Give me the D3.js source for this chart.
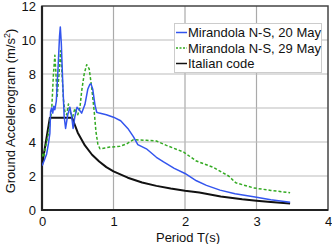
<!DOCTYPE html>
<html><head><meta charset="utf-8">
<script src="https://cdn.jsdelivr.net/npm/d3@7"></script>
<style>body{margin:0;background:#fff}svg{display:block}text{font-family:"Liberation Sans",Arial,sans-serif;fill:#111}</style>
</head><body><svg id="c" width="332" height="244"></svg>
<script>
const xTicks = [0, 1, 2, 3, 4];
const yTicks = [0, 2, 4, 6, 8, 10, 12];
const seriesNames = ["Mirandola N-S, 20 May", "Mirandola N-S, 29 May", "Italian code"];

const may20T = [0, 0.03, 0.065, 0.09, 0.11, 0.12, 0.135, 0.15, 0.165, 0.18, 0.2, 0.225, 0.245, 0.256, 0.27, 0.29, 0.31, 0.33, 0.36, 0.39, 0.415, 0.435, 0.46, 0.49, 0.52, 0.555, 0.6, 0.64, 0.67, 0.685, 0.71, 0.74, 0.765, 0.8, 0.9, 1.0, 1.1, 1.2, 1.28, 1.34, 1.46, 1.6, 1.7, 1.85, 2.0, 2.16, 2.3, 2.49, 2.7, 2.96, 3.2, 3.47];
const may20A = [2.6, 2.9, 3.3, 3.9, 4.5, 5.8, 6.0, 5.7, 6.1, 5.9, 6.4, 8.4, 10.2, 10.77, 9.8, 7.5, 5.5, 4.8, 5.6, 6.05, 5.5, 4.8, 5.5, 6.05, 5.9, 5.7, 6.2, 7.1, 7.4, 7.42, 7.1, 6.2, 5.75, 5.7, 5.6, 5.46, 5.25, 4.8, 4.3, 3.85, 3.6, 3.1, 2.83, 2.45, 2.15, 1.72, 1.45, 1.17, 0.95, 0.78, 0.6, 0.45];

const may29T = [0, 0.02, 0.05, 0.09, 0.135, 0.16, 0.18, 0.195, 0.21, 0.235, 0.26, 0.28, 0.3, 0.32, 0.345, 0.37, 0.4, 0.43, 0.46, 0.5, 0.53, 0.555, 0.59, 0.625, 0.66, 0.695, 0.73, 0.755, 0.78, 0.81, 0.88, 0.95, 1.09, 1.18, 1.28, 1.46, 1.6, 1.74, 1.98, 2.16, 2.4, 2.61, 2.71, 2.96, 3.2, 3.47];
const may29A = [3.3, 3.1, 3.7, 4.5, 5.85, 8.0, 9.1, 8.0, 6.6, 7.8, 9.37, 8.0, 6.5, 5.8, 5.6, 6.24, 5.7, 5.5, 5.97, 5.6, 6.0, 7.0, 8.0, 8.55, 8.3, 7.2, 5.8, 4.6, 3.9, 3.6, 3.65, 3.7, 3.75, 3.88, 4.14, 4.1, 4.06, 3.8, 3.41, 2.88, 2.5, 2.0, 1.6, 1.3, 1.15, 1.02];

const codeT = [0, 0.05, 0.11, 0.42, 0.5, 0.6, 0.7, 0.8, 0.9, 1.0, 1.2, 1.4, 1.6, 1.8, 2.0, 2.2, 2.5, 2.8, 3.0, 3.2, 3.47];
const codeA = [2.6, 3.9, 5.43, 5.43, 4.55, 3.8, 3.25, 2.85, 2.52, 2.27, 1.9, 1.62, 1.42, 1.26, 1.13, 1.03, 0.8, 0.63, 0.55, 0.47, 0.38];

const L = 42, R = 328, T = 6, B = 210;
const svg = d3.select("#c");
const x = d3.scaleLinear().domain([0, 4]).range([L, R]);
const y = d3.scaleLinear().domain([0, 12]).range([B, T]);

// grid
svg.append("g").selectAll("line").data(xTicks.slice(1, -1)).join("line")
  .attr("x1", d => x(d)).attr("x2", d => x(d)).attr("y1", T).attr("y2", B)
  .attr("stroke", "#aaa").attr("stroke-width", 1.2);
svg.append("g").selectAll("line").data(yTicks.slice(1, -1)).join("line")
  .attr("x1", L).attr("x2", R).attr("y1", d => y(d)).attr("y2", d => y(d))
  .attr("stroke", "#bbb").attr("stroke-width", 1.2);

// frame
svg.append("rect").attr("x", L).attr("y", T).attr("width", R - L).attr("height", B - T)
  .attr("fill", "none").attr("stroke", "#444").attr("stroke-width", 1.5);
svg.append("path").attr("d", `M${L},${T}V${B}H${R}`).attr("fill", "none")
  .attr("stroke", "#222").attr("stroke-width", 2.2);

// tick labels via axes
const xAxis = svg.append("g").attr("transform", `translate(0,${B})`)
  .call(d3.axisBottom(x).tickValues(xTicks).tickSize(0).tickPadding(7).tickFormat(d3.format("d")));
const yAxis = svg.append("g").attr("transform", `translate(${L},0)`)
  .call(d3.axisLeft(y).tickValues(yTicks).tickSize(0).tickPadding(6).tickFormat(d3.format("d")));
[xAxis, yAxis].forEach(g => {
  g.select(".domain").remove();
  g.selectAll("text").attr("font-size", 13).attr("font-family", "Liberation Sans, Arial, sans-serif").attr("fill", "#111");
});

// titles
svg.append("text").attr("x", 188).attr("y", 242).attr("text-anchor", "middle").attr("font-size", 13).text("Period T(s)");
const yt = svg.append("text").attr("transform", "translate(15,111) rotate(-90)").attr("text-anchor", "middle").attr("font-size", 13);
yt.append("tspan").text("Ground Accelerogram (m/s");
yt.append("tspan").attr("font-size", 9).attr("dy", -5).text("2");
yt.append("tspan").attr("dy", 5).text(")");

// lines
const line = d3.line().x(d => x(d[0])).y(d => y(d[1]));
const clip = svg.append("clipPath").attr("id", "pc").append("rect").attr("x", L).attr("y", T).attr("width", R - L).attr("height", B - T);
const series = [
  {pts: d3.zip(codeT, codeA), color: "#111", w: 2, dash: null},
  {pts: d3.zip(may29T, may29A), color: "#33aa22", w: 1.5, dash: "3,2"},
  {pts: d3.zip(may20T, may20A), color: "#3355ee", w: 1.5, dash: null}
];
svg.append("g").attr("clip-path", "url(#pc)").selectAll("path").data(series).join("path")
  .attr("d", d => line(d.pts)).attr("fill", "none")
  .attr("stroke", d => d.color).attr("stroke-width", d => d.w)
  .attr("stroke-dasharray", d => d.dash).attr("stroke-linejoin", "round");

// legend
const lg = svg.append("g");
lg.append("rect").attr("x", 174.5).attr("y", 23.5).attr("width", 147).attr("height", 49)
  .attr("fill", "#fff").attr("stroke", "#ccc").attr("stroke-width", 1);
const legendStyles = [
  {color: "#3355ee", dash: null, w: 1.5},
  {color: "#33aa22", dash: "2,1.5", w: 1.5},
  {color: "#111", dash: null, w: 1.5}
];
seriesNames.forEach((name, i) => {
  const yy = 32.5 + i * 15.5;
  lg.append("line").attr("x1", 176).attr("x2", 187).attr("y1", yy).attr("y2", yy)
    .attr("stroke", legendStyles[i].color).attr("stroke-width", legendStyles[i].w)
    .attr("stroke-dasharray", legendStyles[i].dash);
  lg.append("text").attr("x", 188).attr("y", yy + 4.5).attr("font-size", 13).text(name);
});
</script></body></html>
